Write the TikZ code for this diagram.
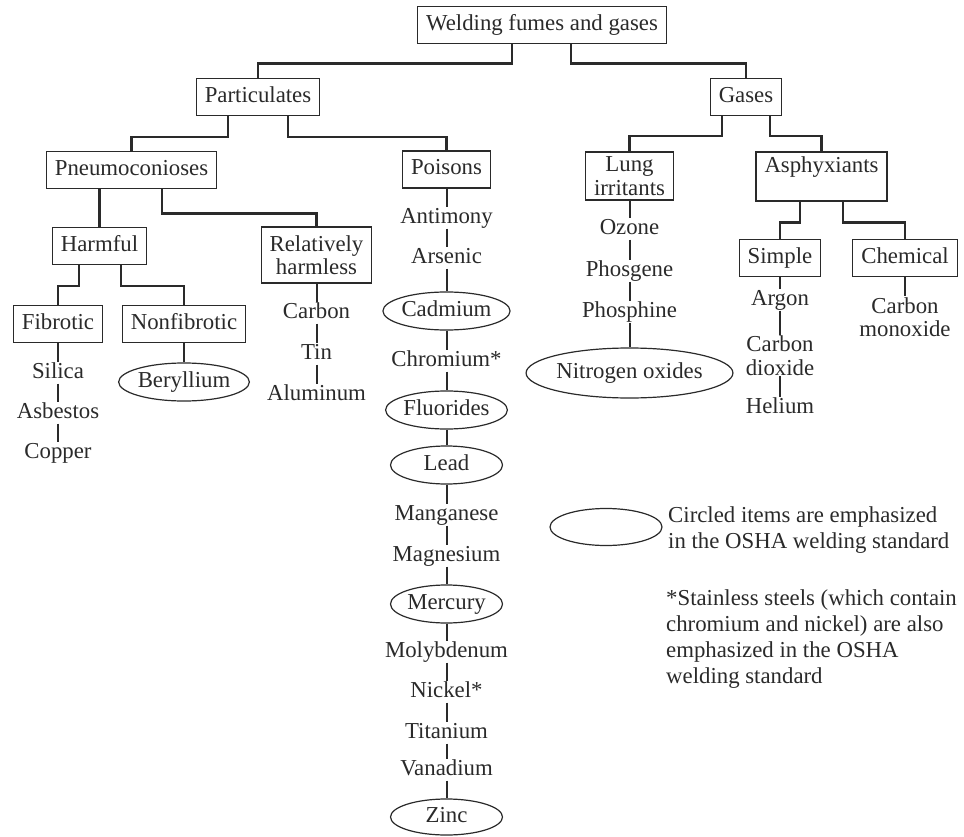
\documentclass[tikz,border=0pt]{standalone}
\usepackage{fontspec}
\setmainfont{Liberation Serif}
\usetikzlibrary{shapes.geometric}
\definecolor{ink}{HTML}{2A2A2A}
\begin{document}
\begin{tikzpicture}[x=1pt,y=-1pt,
  every node/.style={font=\fontsize{22.8}{23.5}\selectfont, text=ink},
  box/.style={draw=ink, line width=1.2pt, rectangle, inner xsep=8.5pt, inner ysep=0pt, minimum height=37pt, text height=15pt, text depth=4pt},
  boxtwo/.style={draw=ink, line width=1.2pt, rectangle, inner xsep=8.5pt, inner ysep=3pt, align=center},
  item/.style={inner xsep=2pt, inner ysep=1pt, text height=15pt, text depth=4pt},
  itemtwo/.style={inner xsep=2pt, inner ysep=1pt, align=center},
  oval/.style={draw=ink, line width=1.2pt, ellipse, inner sep=0pt, minimum width=112pt, minimum height=38pt, text height=15pt, text depth=4pt},
  conn/.style={draw=ink, line width=2.2pt},
  vconn/.style={draw=ink, line width=2pt},
  note/.style={align=left, inner sep=0pt, anchor=west}
]
\useasboundingbox (0,0) rectangle (964,837);

% boxes
\node[box] (top) at (542,25) {Welding fumes and gases};
\node[box] (part) at (258,97) {Particulates};
\node[box] (gases) at (746,97) {Gases};
\node[box] (pneu) at (131.5,170) {Pneumoconioses};
\node[box] (pois) at (446.5,169.5) {Poisons};
\node[boxtwo, minimum height=48pt] (lung) at (629.5,176) {Lung\\irritants};
\node[boxtwo, minimum height=49pt] (asph) at (821.5,176.5) {Asphyxiants\\\phantom{X}};
\node[box] (harm) at (99.5,246) {Harmful};
\node[boxtwo, minimum height=56pt] (rel) at (316.5,255) {Relatively\\harmless};
\node[box] (simp) at (780,258) {Simple};
\node[box] (chem) at (905,258) {Chemical};
\node[box] (fib) at (58,324) {Fibrotic};
\node[box] (nonf) at (184,324) {Nonfibrotic};

% tree connectors
\draw[conn] ([xshift=-30pt]top.south) -- ++(0,19.5) -| (part.north);
\draw[conn] ([xshift=29pt]top.south) -- ++(0,19.5) -| (gases.north);
\draw[conn] ([xshift=-30pt]part.south) -- ++(0,21) -| (pneu.north);
\draw[conn] ([xshift=30pt]part.south) -- ++(0,21) -| (pois.north);
\draw[conn] ([xshift=-24pt]gases.south) -- ++(0,20) -| (lung.north);
\draw[conn] ([xshift=24pt]gases.south) -- ++(0,20) -| (asph.north);
\draw[conn] (pneu.south -| harm.north) -- (harm.north);
\draw[conn] ([xshift=30.5pt]pneu.south) -- ++(0,24.5) -| (rel.north);
\draw[conn] ([xshift=-20.5pt]harm.south) -- ++(0,20.5) -| (fib.north);
\draw[conn] ([xshift=21.5pt]harm.south) -- ++(0,20.5) -| (nonf.north);
\draw[conn] ([xshift=-21.5pt]asph.south) -- ++(0,21) -| (simp.north);
\draw[conn] ([xshift=21.5pt]asph.south) -- ++(0,21) -| (chem.north);

% Fibrotic list
\node[item] (silica) at (58,373) {Silica};
\node[item] (asb) at (58,413) {Asbestos};
\node[item] (copper) at (58,453) {Copper};
\draw[vconn] (fib.south) -- (silica.north);
\draw[vconn] (silica.south) -- (asb.north);
\draw[vconn] (asb.south) -- (copper.north);

% Nonfibrotic
\node[oval] (beryl) at (184,382) {Beryllium};
\draw[vconn] (nonf.south) -- (beryl.north);

% Relatively harmless list
\node[item] (carbon) at (316.5,313) {Carbon};
\node[item] (tin) at (316.5,354) {Tin};
\node[item] (alum) at (316.5,395) {Aluminum};
\draw[vconn] (rel.south) -- (carbon.north);
\draw[vconn] (carbon.south) -- (tin.north);
\draw[vconn] (tin.south) -- (alum.north);

% Poisons list
\node[item] (ant) at (446.5,218) {Antimony};
\node[item] (ars) at (446.5,258) {Arsenic};
\node[oval] (cad) at (446.5,311) {Cadmium};
\node[item] (chr) at (446.5,361) {Chromium*};
\node[oval] (flu) at (446.5,410) {Fluorides};
\node[oval] (lead) at (446.5,465) {Lead};
\node[item] (mang) at (446.5,515) {Manganese};
\node[item] (magn) at (446.5,556) {Magnesium};
\node[oval] (merc) at (446.5,604) {Mercury};
\node[item] (moly) at (446.5,652) {Molybdenum};
\node[item] (nick) at (446.5,692) {Nickel*};
\node[item] (tit) at (446.5,733) {Titanium};
\node[item] (van) at (446.5,770) {Vanadium};
\node[oval, minimum height=36pt] (zinc) at (446.5,817) {Zinc};
\draw[vconn] (pois.south) -- (ant.north);
\draw[vconn] (ant.south) -- (ars.north);
\draw[vconn] (ars.south) -- (cad.north);
\draw[vconn] (cad.south) -- (chr.north);
\draw[vconn] (chr.south) -- (flu.north);
\draw[vconn] (flu.south) -- (lead.north);
\draw[vconn] (lead.south) -- (mang.north);
\draw[vconn] (mang.south) -- (magn.north);
\draw[vconn] (magn.south) -- (merc.north);
\draw[vconn] (merc.south) -- (moly.north);
\draw[vconn] (moly.south) -- (nick.north);
\draw[vconn] (nick.south) -- (tit.north);
\draw[vconn] (tit.south) -- (van.north);
\draw[vconn] (van.south) -- (zinc.north);

% Lung irritants list
\node[item] (ozone) at (629.5,229) {Ozone};
\node[item] (phosg) at (629.5,271) {Phosgene};
\node[item] (phosph) at (629.5,312) {Phosphine};
\node[oval, minimum width=173pt, minimum height=50pt] (nitro) at (629.5,373) {Nitrogen oxides};
\draw[vconn] (lung.south) -- (ozone.north);
\draw[vconn] (ozone.south) -- (phosg.north);
\draw[vconn] (phosg.south) -- (phosph.north);
\draw[vconn] (phosph.south) -- (nitro.north);

% Simple list
\node[item] (argon) at (780,300) {Argon};
\node[itemtwo] (cotwo) at (780,355.5) {Carbon\\dioxide};
\node[item] (helium) at (780,408) {Helium};
\draw[vconn] (simp.south) -- (argon.north);
\draw[vconn] (argon.south) -- (cotwo.north);
\draw[vconn] (cotwo.south) -- (helium.north);

% Chemical
\node[itemtwo] (co) at (905,317) {Carbon\\monoxide};
\draw[vconn] (chem.south) -- (co.north);

% legend
\node[oval, minimum height=37pt] (legoval) at (606,527) {};
\node[note, font=\fontsize{22.8}{26}\selectfont] (legtext) at (668,529.6) {Circled items are emphasized\\in the OSHA welding standard};
\node[note, font=\fontsize{22.8}{26}\selectfont] (foot) at (666,639.5) {*Stainless steels (which contain\\chromium and nickel) are also\\emphasized in the OSHA\\welding standard};
\end{tikzpicture}
\end{document}
